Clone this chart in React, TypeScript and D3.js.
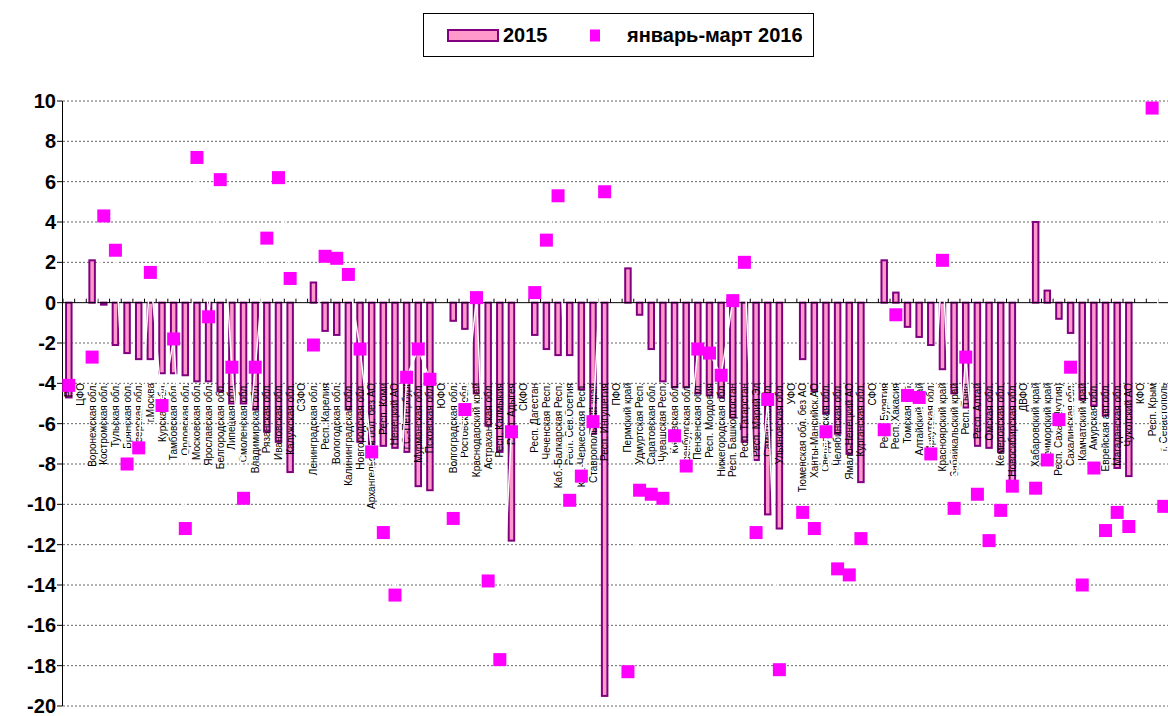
import React from "react";
import * as d3 from "d3";

const categories: string[] = [
  "РФ", "ЦФО", "Воронежская обл.", "Костромская обл.", "Тульская обл.", "Брянская обл.", "Тверская обл.", "г.Москва",
  "Курская обл.", "Тамбовская обл.", "Орловская обл.", "Московская обл.", "Ярославская обл.", "Белгородская обл.",
  "Липецкая обл.", "Смоленская обл.", "Владимирская обл.", "Рязанская обл.", "Ивановская обл.", "Калужская обл.",
  "СЗФО", "Ленинградская обл.", "Респ. Карелия", "Вологодская обл.", "Калининградская обл.", "Новгородская обл.",
  "Архангельская обл. без АО", "Респ. Коми", "Ненецкий АО", "г.С.-Петербург", "Мурманская обл.", "Псковская обл.",
  "ЮФО", "Волгоградская обл.", "Ростовская обл.", "Краснодарский край", "Астраханская обл.", "Респ. Калмыкия",
  "Респ. Адыгея", "СКФО", "Респ. Дагестан", "Чеченская Респ.", "Каб.-Балкарская Респ.", "Респ. Сев.Осетия",
  "Кар.-Черкесская Респ.", "Ставропольский край", "Респ. Ингушетия", "ПФО", "Пермский край", "Удмуртская Респ.",
  "Саратовская обл.", "Чувашская Респ.", "Кировская обл.", "Оренбургская обл.", "Пензенская обл.", "Респ. Мордовия",
  "Нижегородская обл.", "Респ. Башкортостан", "Респ. Татарстан", "Респ. Марий Эл", "Самарская обл.", "Ульяновская обл.",
  "УФО", "Тюменская обл. без АО", "Ханты-Мансийск.АО", "Свердловская обл.", "Челябинская обл.", "Ямало-Ненецкий АО",
  "Курганская обл.", "СФО", "Респ. Бурятия", "Респ. Хакасия", "Томская обл.", "Алтайский край", "Иркутская обл.",
  "Красноярский край", "Забайкальский край", "Респ. Тыва", "Респ. Алтай", "Омская обл.", "Кемеровская обл.",
  "Новосибирская обл.", "ДВФО", "Хабаровский край", "Приморский край", "Респ. Саха (Якутия)", "Сахалинская обл.",
  "Камчатский край", "Амурская обл.", "Еврейская авт.обл.", "Магаданская обл.", "Чукотский АО", "КФО", "Респ. Крым",
  "г. Севастополь",
];

const values2015: (number | null)[] = [
  -4.7, null, 2.1, -0.1, -2.1, -2.5, -2.8, -2.8, -3.5, -3.5, -3.6, -3.9, -3.9, -4.4, -5.0, -5.0, -5.3, -6.4, -6.9, -8.4,
  null, 1.0, -1.4, -1.6, -5.3, -6.9, -7.0, -7.1, -7.2, -7.4, -9.1, -9.3,
  null, -0.9, -1.3, -4.5, -6.1, -7.4, -11.8,
  null, -1.6, -2.3, -2.6, -2.6, -4.3, -6.5, -19.5,
  null, 1.7, -0.6, -2.3, -3.9, -4.2, -4.2, -4.5, -4.6, -4.7, -5.7, -6.9, -7.8, -10.5, -11.2,
  null, -2.8, -4.4, -5.5, -6.5, -7.5, -8.9,
  null, 2.1, 0.5, -1.2, -1.7, -2.1, -3.3, -4.5, -5.2, -7.1, -7.2, -7.4, -8.9,
  null, 4.0, 0.6, -0.8, -1.5, -4.8, -5.1, -5.6, -8.2, -8.6,
  null, null, null,
];

const values2016: (number | null)[] = [
  -4.1, null, -2.7, 4.3, 2.6, -8.0, -7.2, 1.5, -5.1, -1.8, -11.2, 7.2, -0.7, 6.1, -3.2, -9.7, -3.2, 3.2, 6.2, 1.2,
  null, -2.1, 2.3, 2.2, 1.4, -2.3, -7.4, -11.4, -14.5, -3.7, -2.3, -3.8,
  null, -10.7, -5.3, 0.25, -13.8, -17.7, -6.4,
  null, 0.5, 3.1, 5.3, -9.8, -8.6, -5.9, 5.5,
  null, -18.3, -9.3, -9.5, -9.7, -6.6, -8.1, -2.3, -2.5, -3.6, 0.1, 2.0, -11.4, -4.8, -18.2,
  null, -10.4, -11.2, -6.4, -13.2, -13.5, -11.7,
  null, -6.3, -0.6, -4.6, -4.7, -7.5, 2.1, -10.2, -2.7, -9.5, -11.8, -10.3, -9.1,
  null, -9.2, -7.8, -5.8, -3.2, -14.0, -8.2, -11.3, -10.4, -11.1,
  null, 9.65, -10.1,
];

const yTicks: number[] = [10, 8, 6, 4, 2, 0, -2, -4, -6, -8, -10, -12, -14, -16, -18, -20];
const seriesNames: string[] = ["2015", "январь-март 2016"];

const W = 1168;
const H = 716;
const FONT = "'Liberation Sans', Arial, sans-serif";

export default function App() {
  const x = d3.scaleBand<string>().domain(categories).range([63, 1169.6]).padding(0);
  const y = d3.scaleLinear().domain([-20, 10]).range([706, 101]);
  const cx = (c: string) => (x(c) as number) + x.bandwidth() / 2;
  const y0 = y(0);

  const pts = categories.map((c, i) => ({ c, v: values2016[i] }));
  const line = d3
    .line<{ c: string; v: number | null }>()
    .defined((d) => d.v !== null)
    .x((d) => cx(d.c))
    .y((d) => y(d.v as number));

  const boundaries = categories.map((c) => x(c) as number);

  return (
    <svg
      width={W}
      height={H}
      style={{ position: "absolute", left: 0, top: 0, display: "block", background: "#fff" }}
      fontFamily={FONT}
    >
      {/* gridlines */}
      {yTicks
        .filter((t) => t !== 0)
        .map((t) => (
          <line key={"g" + t} x1={63} x2={W} y1={y(t)} y2={y(t)} stroke="#666" strokeWidth={1} strokeDasharray="2,2" />
        ))}
      {/* bars */}
      {categories.map((c, i) => {
        const v = values2015[i];
        if (v === null) return null;
        const yy = y(v);
        return (
          <rect
            key={"b" + i}
            x={cx(c) - 2.75}
            y={Math.min(yy, y0)}
            width={5.5}
            height={Math.abs(yy - y0)}
            fill="#FF99CC"
            stroke="#800080"
            strokeWidth={2}
          />
        );
      })}
      {/* category labels */}
      {categories.map((c) => (
        <text
          key={"l" + c}
          transform={`translate(${cx(c)},383) rotate(-90)`}
          textAnchor="end"
          dy="0.35em"
          fontSize={10}
          fill="#000"
        >
          {c}
        </text>
      ))}
      {/* x axis */}
      <line x1={63} x2={W} y1={y0} y2={y0} stroke="#000" strokeWidth={1} />
      {boundaries.map((b, i) => (
        <line key={"xt" + i} x1={b} x2={b} y1={y0 - 4} y2={y0} stroke="#000" strokeWidth={1} />
      ))}
      {/* y axis */}
      <line x1={62.5} x2={62.5} y1={y(10)} y2={y(-20)} stroke="#000" strokeWidth={1} />
      {yTicks.map((t) => (
        <g key={"yt" + t}>
          <line x1={57} x2={62.5} y1={y(t)} y2={y(t)} stroke="#000" strokeWidth={1} />
          <text x={56} y={y(t)} dy="0.35em" textAnchor="end" fontSize={20} fontWeight="bold" fill="#000">
            {t}
          </text>
        </g>
      ))}
      {/* white connecting line of 2016 series */}
      <path d={line(pts as any) || ""} fill="none" stroke="#fff" strokeWidth={1.5} />
      {/* 2016 markers */}
      {categories.map((c, i) => {
        const v = values2016[i];
        if (v === null) return null;
        return <rect key={"m" + i} x={cx(c) - 6.5} y={y(v) - 6.5} width={13} height={13} fill="#FF00FF" />;
      })}
      {/* legend */}
      <rect x={423.5} y={13.5} width={390} height={43} fill="#fff" stroke="#000" strokeWidth={1} />
      <rect x={448} y={30} width={50} height={11} fill="#FF99CC" stroke="#800080" strokeWidth={2} />
      <text x={503} y={35} dy="0.35em" fontSize={20} fontWeight="bold" fill="#000">
        {seriesNames[0]}
      </text>
      <rect x={590} y={29.5} width={10} height={12} fill="#FF00FF" />
      <text x={627} y={35} dy="0.35em" fontSize={20} fontWeight="bold" fill="#000">
        {seriesNames[1]}
      </text>
    </svg>
  );
}
